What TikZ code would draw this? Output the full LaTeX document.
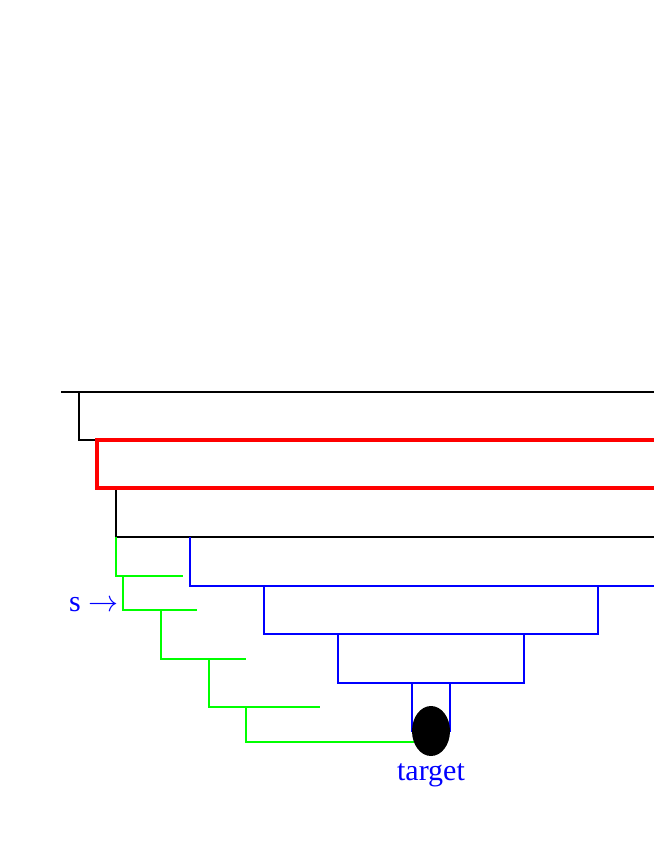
\RequirePackage{fix-cm}
\documentclass[tikz,border=0pt]{standalone}
\usepackage{fontspec}
\setmainfont{Liberation Serif}
\usetikzlibrary{shapes.geometric}
\definecolor{pureRed}{RGB}{255,0,0}
\definecolor{pureBlue}{RGB}{0,0,255}
\definecolor{pureGreen}{RGB}{0,255,0}
\begin{document}
\begin{tikzpicture}[x=1bp,y=-1bp,
  blk/.style={draw=black,line width=2.2bp},
  redl/.style={draw=pureRed,line width=4bp},
  bluel/.style={draw=pureBlue,line width=2.7bp},
  grn/.style={draw=pureGreen,line width=2.7bp},
  lbl/.style={text=pureBlue,inner sep=0pt,font=\fontsize{30bp}{36bp}\selectfont}]
\useasboundingbox (0,0) rectangle (654,846);
% black frames
\draw[blk] (61,392) -- (654,392);
\draw[blk] (79,392) -- (79,440) -- (97,440);
\draw[blk] (116,488) -- (116,537) -- (654,537);
% red frame
\draw[redl] (654,440) -- (97,440) -- (97,488) -- (654,488);
% green steps
\draw[grn] (116,537) -- (116,576) -- (183,576);
\draw[grn] (123,576) -- (123,610) -- (197,610);
\draw[grn] (161,610) -- (161,659) -- (246,659);
\draw[grn] (209,659) -- (209,707) -- (320,707);
\draw[grn] (246,707) -- (246,742) -- (414,742);
% blue funnel
\draw[bluel] (190,537) -- (190,586) -- (654,586);
\draw[bluel] (264,586) -- (264,634) -- (598,634) -- (598,586);
\draw[bluel] (338,634) -- (338,683) -- (524,683) -- (524,634);
\draw[bluel] (412,683) -- (412,732);
\draw[bluel] (450,683) -- (450,732);
% target
\node[ellipse,fill=black,minimum width=38bp,minimum height=50bp,inner sep=0pt] (target) at (431,731) {};
\node[lbl,anchor=base] (tlabel) at (431,780) {target};
\node[lbl,anchor=base west] (slabel) at (69,611) {s $\rightarrow$};
\end{tikzpicture}
\end{document}
